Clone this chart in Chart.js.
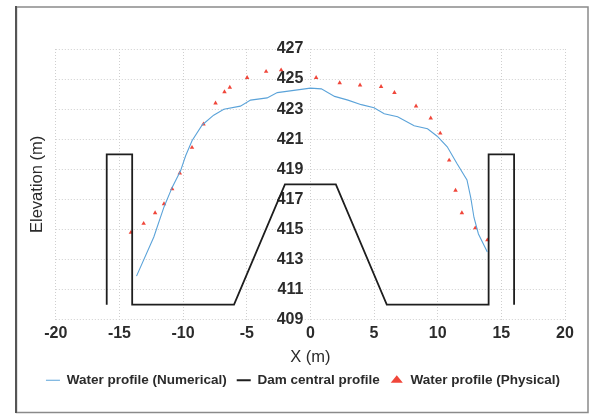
<!DOCTYPE html>
<html>
<head>
<meta charset="utf-8">
<script src="https://cdn.jsdelivr.net/npm/chart.js@4/dist/chart.umd.min.js"></script>
<style>
  html, body { margin: 0; padding: 0; background: #ffffff; }
  #wrap { width: 592px; height: 415px; position: relative; }
</style>
</head>
<body>
<div id="wrap"><canvas id="c" width="592" height="415"></canvas></div>
<script>
// ---- data ----
const numX = [-13.66, -12.3, -11.5, -10.86, -10.2, -9.8, -9.3, -8.5, -7.6, -6.8, -5.5, -4.7, -3.4, -2.6, -1.3, 0, 0.86, 1.9, 2.95, 4.0, 5.0, 5.8, 6.85, 8.15, 9.2, 9.96, 10.75, 11.5, 12.3, 12.6, 12.85, 13.2, 13.9];
const numY = [411.9, 414.5, 416.5, 417.8, 418.9, 419.9, 420.9, 421.95, 422.6, 423.0, 423.2, 423.6, 423.75, 424.1, 424.25, 424.4, 424.35, 423.85, 423.6, 423.3, 423.1, 422.7, 422.5, 421.9, 421.7, 421.2, 420.5, 419.4, 418.3, 417.1, 415.8, 414.7, 413.5];

const damX = [-16, -16, -14, -14, -6, -2, 2, 6, 14, 14, 16, 16];
const damY = [410, 420, 420, 410, 410, 418, 418, 410, 410, 420, 420, 410];

const physX = [-14.1, -13.1, -12.2, -11.5, -10.86, -10.26, -9.3, -8.4, -7.45, -6.75, -6.33, -4.97, -3.48, -2.3, 0.45, 2.3, 3.9, 5.55, 6.6, 8.3, 9.45, 10.2, 10.9, 11.4, 11.9, 12.95, 13.9];
const physY = [414.8, 415.4, 416.1, 416.7, 417.7, 418.75, 420.45, 422.0, 423.4, 424.15, 424.45, 425.1, 425.5, 425.6, 425.1, 424.75, 424.6, 424.5, 424.1, 423.2, 422.4, 421.4, 419.6, 417.6, 416.1, 415.1, 414.3];

const seriesNames = ['Water profile (Numerical)', 'Dam central profile', 'Water profile (Physical)'];
const xTitle = 'X (m)';
const yTitle = 'Elevation (m)';
const xMin = -20, xMax = 20, xStep = 5;
const yMin = 409, yMax = 427, yStep = 2;

const toPts = (xs, ys) => xs.map((x, i) => ({x: x, y: ys[i]}));

const SANS = "'Liberation Sans', Arial, sans-serif";
const TXT = '#2b2b2b';
const GRID = '#cfcfcf';

const framePlugin = {
  id: 'frame',
  beforeDraw(chart) {
    const ctx = chart.ctx;
    ctx.save();
    ctx.fillStyle = '#ffffff';
    ctx.fillRect(0, 0, chart.width, chart.height);
    ctx.restore();
  },
  afterDraw(chart) {
    const ctx = chart.ctx;
    ctx.save();
    ctx.strokeStyle = '#8a8a8a';
    ctx.lineWidth = 1.5;
    ctx.strokeRect(16.5, 7, 571.5, 405.5);
    ctx.strokeStyle = '#555555';
    ctx.lineWidth = 2;
    ctx.beginPath();
    ctx.moveTo(16, 6);
    ctx.lineTo(16, 413);
    ctx.stroke();
    ctx.restore();
  }
};

new Chart(document.getElementById('c'), {
  type: 'scatter',
  data: {
    datasets: [
      {
        label: seriesNames[0],
        data: toPts(numX, numY),
        showLine: true,
        borderColor: '#5ba3d9',
        backgroundColor: '#5ba3d9',
        borderWidth: 1.1,
        pointRadius: 0,
        pointStyle: 'line',
        tension: 0,
        xAxisID: 'x', yAxisID: 'y'
      },
      {
        label: seriesNames[1],
        data: toPts(damX, damY),
        showLine: true,
        borderColor: '#1e1e1e',
        backgroundColor: '#1e1e1e',
        borderWidth: 1.8,
        pointRadius: 0,
        pointStyle: 'line',
        tension: 0,
        xAxisID: 'x', yAxisID: 'y'
      },
      {
        label: seriesNames[2],
        data: toPts(physX, physY),
        showLine: false,
        borderColor: '#f0463a',
        backgroundColor: '#f0463a',
        borderWidth: 0,
        pointRadius: 2.6,
        pointStyle: 'triangle',
        xAxisID: 'x', yAxisID: 'y'
      }
    ]
  },
  options: {
    responsive: false,
    animation: false,
    devicePixelRatio: 1,
    layout: { padding: { left: 17, right: 3, top: 49, bottom: 18 } },
    plugins: {
      tooltip: { enabled: false },
      legend: {
        position: 'bottom',
        labels: {
          usePointStyle: true,
          pointStyleWidth: 14,
          boxHeight: 7,
          padding: 10,
          color: TXT,
          font: { family: SANS, size: 13.5, weight: 'bold' }
        }
      }
    },
    scales: {
      x: {
        type: 'linear',
        axis: 'x',
        position: 'bottom',
        min: xMin, max: xMax,
        ticks: { stepSize: xStep, color: TXT, padding: 4, font: { family: SANS, size: 16, weight: 'bold' } },
        grid: { color: GRID, lineWidth: 1, drawTicks: false },
        border: { display: false, dash: [1, 2] },
        title: { display: true, text: xTitle, color: TXT, padding: { top: 5, bottom: 0 }, font: { family: SANS, size: 16.5, lineHeight: 0.7 } }
      },
      y: {
        type: 'linear',
        axis: 'y',
        position: { x: -0.55 },
        min: yMin, max: yMax,
        ticks: { stepSize: yStep, color: TXT, padding: 0, font: { family: SANS, size: 16, weight: 'bold' } },
        grid: { color: GRID, lineWidth: 1, drawTicks: false },
        border: { display: false, dash: [1, 2] }
      },
      yt: {
        type: 'linear',
        axis: 'y',
        position: 'left',
        ticks: { display: false },
        grid: { display: false },
        border: { display: false },
        title: { display: true, text: yTitle, color: TXT, padding: { top: 11, bottom: 0 }, font: { family: SANS, size: 16.5 } }
      },
      yr: {
        type: 'linear',
        axis: 'y',
        position: 'right',
        ticks: { display: false },
        grid: { display: false },
        border: { display: false },
        afterFit(scale) { scale.width = 24; }
      }
    }
  },
  plugins: [framePlugin]
});
</script>
</body>
</html>
